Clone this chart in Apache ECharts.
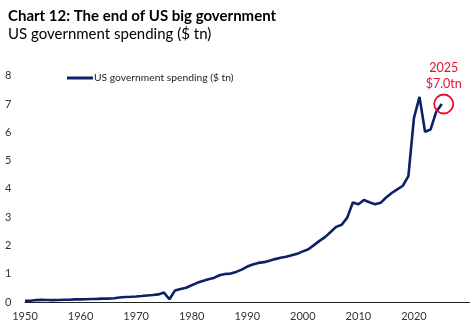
<!DOCTYPE html>
<html><head><meta charset="utf-8">
<script src="https://cdn.jsdelivr.net/npm/echarts@6/dist/echarts.min.js"></script>
<style>html,body{margin:0;padding:0;background:#fff}#c{width:476px;height:336px}</style>
</head><body><div id="c"></div>
<script>
const years = [];
for (let y = 1950; y <= 2025; y++) years.push(y);
const spending = [
  0.043, 0.046, 0.068, 0.076, 0.071, 0.068, 0.071, 0.077, 0.082, 0.092,
  0.092, 0.098, 0.107, 0.111, 0.119, 0.118, 0.135, 0.158, 0.178, 0.184,
  0.196, 0.210, 0.231, 0.246, 0.269, 0.332, 0.096, 0.409, 0.459, 0.504,
  0.591, 0.678, 0.746, 0.808, 0.852, 0.946, 0.990, 1.004, 1.064, 1.144,
  1.253, 1.324, 1.382, 1.409, 1.462, 1.516, 1.561, 1.601, 1.653, 1.702,
  1.789, 1.863, 2.011, 2.160, 2.293, 2.472, 2.655, 2.729, 2.983, 3.518,
  3.457, 3.603, 3.527, 3.455, 3.506, 3.692, 3.853, 3.982, 4.109, 4.447,
  6.50, 7.25, 6.02, 6.10, 6.72, 7.00
];
const yTicks = [0, 1, 2, 3, 4, 5, 6, 7, 8];
const xTicks = [1950, 1960, 1970, 1980, 1990, 2000, 2010, 2020];
const seriesName = 'US government spending ($ tn)';
const titleText = 'Chart 12: The end of US big government';
const subtitleText = 'US government spending ($ tn)';
const callout = ['2025', '$7.0tn'];

const NAVY = '#0c2166';
const RED = '#e8112d';
const FONT = 'Lato';
const data = years.map((y, i) => [y, spending[i]]);
const last = data[data.length - 1];

const chart = echarts.init(document.getElementById('c'), null, {renderer: 'canvas'});
chart.setOption({
  animation: false,
  title: [{
    text: titleText, left: 3, top: 4,
    textStyle: {fontFamily: FONT, fontWeight: 'bold', fontSize: 15, color: '#000'}
  }, {
    text: subtitleText, left: 3, top: 22,
    textStyle: {fontFamily: FONT, fontWeight: 'normal', fontSize: 15, color: '#000'}
  }],
  legend: {
    left: 62, top: 68, itemWidth: 26, itemHeight: 3, itemGap: 0,
    icon: 'rect',
    textStyle: {fontFamily: FONT, fontSize: 10.3, color: '#222', padding: [0, 0, 0, -4]},
    data: [{name: seriesName, itemStyle: {color: NAVY}}]
  },
  grid: {left: 25, right: 6.5, top: 75.7, bottom: 34},
  xAxis: {
    type: 'value', min: 1950, max: 2030, interval: 10,
    axisLine: {show: true, lineStyle: {color: '#222', width: 1}},
    axisTick: {show: false}, splitLine: {show: false},
    axisLabel: {
      fontFamily: FONT, fontSize: 11, color: '#333', margin: 9,
      formatter: v => xTicks.includes(v) ? String(v) : ''
    }
  },
  yAxis: {
    type: 'value', min: 0, max: 8, interval: 1,
    axisLine: {show: false}, axisTick: {show: false}, splitLine: {show: false},
    axisLabel: {
      fontFamily: FONT, fontSize: 11, color: '#333', margin: 20, align: 'left',
      formatter: v => yTicks.includes(v) ? String(v) : ''
    }
  },
  series: [{
    name: seriesName, type: 'line', data: data, showSymbol: false,
    lineStyle: {color: NAVY, width: 2.6}, itemStyle: {color: NAVY},
    markPoint: {
      symbol: 'circle', symbolSize: 19, symbolOffset: [2, 0],
      itemStyle: {color: 'rgba(0,0,0,0)', borderColor: RED, borderWidth: 1.8},
      label: {
        show: true, position: 'top', distance: 2,
        formatter: callout.join('\n'), color: RED, lineHeight: 16,
        fontFamily: FONT, fontSize: 12.5
      },
      data: [{coord: last}]
    }
  }]
});
</script></body></html>
